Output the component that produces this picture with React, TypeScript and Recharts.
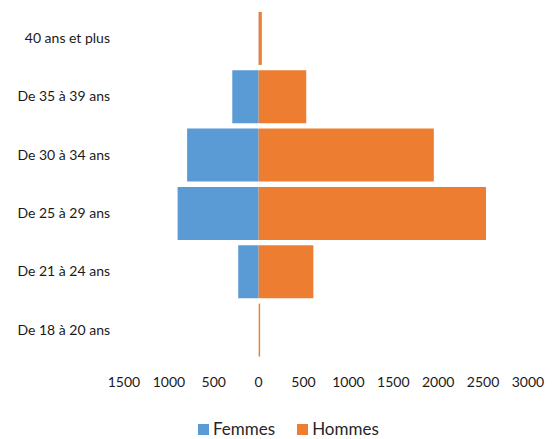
import { Bar, BarChart, Legend, XAxis, YAxis } from "recharts"

const ageGroups = [
  "40 ans et plus",
  "De 35 à 39 ans",
  "De 30 à 34 ans",
  "De 25 à 29 ans",
  "De 21 à 24 ans",
  "De 18 à 20 ans",
]
const femmes = [2, 294, 797, 903, 228, 0]
const hommes = [35, 530, 1951, 2532, 609, 16]
const xTicks = [-1500, -1000, -500, 0, 500, 1000, 1500, 2000, 2500, 3000]

const BLUE = "#5B9BD5"
const ORANGE = "#ED7D31"
const FONT = "Lato, 'Open Sans', sans-serif"

const data = ageGroups.map((age, i) => ({
  age,
  Femmes: -femmes[i],
  Hommes: hommes[i],
}))

function LegendBox({ payload }: { payload?: { value: string; color: string }[] }) {
  return (
    <div style={{ height: 50, paddingTop: 30, boxSizing: "border-box", paddingLeft: 198, display: "flex", fontFamily: FONT }}>
      {(payload ?? []).map((p) => (
        <div key={p.value} style={{ display: "flex", alignItems: "center", marginRight: 22, lineHeight: "18px" }}>
          <span style={{ width: 11, height: 11, background: p.color, marginRight: 4, display: "inline-block" }} />
          <span style={{ fontSize: 17, color: "#262626" }}>{p.value}</span>
        </div>
      ))}
    </div>
  )
}

export default function App() {
  return (
    <div style={{ position: "absolute", left: 0, top: 0, background: "#fff" }}>
      <BarChart
        width={553}
        height={439}
        data={data}
        layout="vertical"
        stackOffset="sign"
        barCategoryGap="5%"
        margin={{ top: 9, right: 25, left: 0, bottom: 0 }}
      >
        <XAxis
          type="number"
          domain={[-1500, 3000]}
          ticks={xTicks}
          height={30}
          axisLine={false}
          tickLine={false}
          tickMargin={12}
          tickFormatter={(v: number) => String(Math.abs(v))}
          tick={{ fontSize: 14, fill: "#1a1a1a", fontFamily: FONT }}
        />
        <YAxis
          type="category"
          dataKey="age"
          width={124}
          axisLine={false}
          tickLine={false}
          tickMargin={8}
          tick={{ fontSize: 14, fill: "#1a1a1a", fontFamily: FONT }}
        />
        <Legend verticalAlign="bottom" content={(props: any) => <LegendBox payload={props.payload} />} />
        <Bar dataKey="Femmes" stackId="a" fill={BLUE} isAnimationActive={false} />
        <Bar dataKey="Hommes" stackId="a" fill={ORANGE} isAnimationActive={false} />
      </BarChart>
    </div>
  )
}
